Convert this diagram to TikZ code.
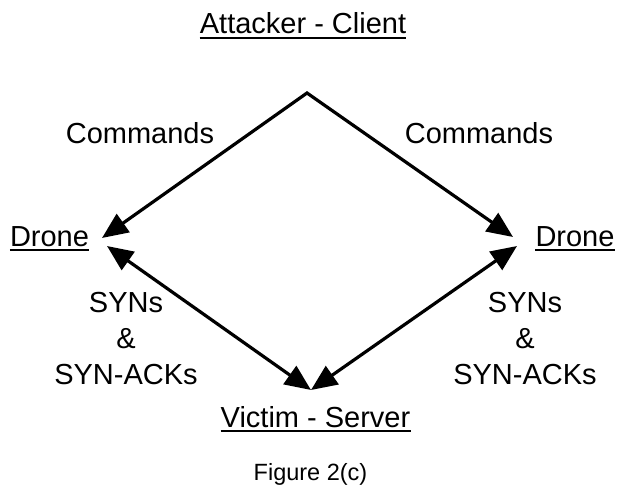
\documentclass[tikz,border=0pt]{standalone}
\usepackage{fontspec}
\setmainfont{Liberation Sans}
\usetikzlibrary{arrows.meta}
\begin{document}
\begin{tikzpicture}[x=1pt,y=-1pt,
  lbl/.style={inner sep=0pt,anchor=base,font=\fontsize{29}{34}\selectfont},
  multi/.style={inner sep=0pt,align=center,font=\fontsize{29}{36}\selectfont},
  figcaption/.style={inner sep=0pt,anchor=base,font=\fontsize{23.5}{28}\selectfont},
  ul/.style={line width=1.6pt},
  link/.style={line width=3.2pt,miter limit=20,
    arrows={Triangle[length=26pt,width=22pt]-Triangle[length=26pt,width=22pt]}}]
\useasboundingbox (0,0) rectangle (617,487);

% titles and host names
\node[lbl] (att) at (303,34) {Attacker - Client};
\node[lbl] (dl) at (49.5,246) {Drone};
\node[lbl] (dr) at (575,246) {Drone};
\node[lbl] (vic) at (315.5,427) {Victim - Server};
\node[figcaption] (fig) at (310.5,480) {Figure 2(c)};

% underlines
\foreach \n in {att,dl,dr,vic}
  \draw[ul] ([yshift=-4pt]\n.base west) -- ([yshift=-4pt]\n.base east);

% edge labels
\node[lbl] (cl) at (140,143) {Commands};
\node[lbl] (cr) at (479,143) {Commands};
\node[multi] (sl) at (126,339) {SYNs\\\&\\SYN-ACKs};
\node[multi] (sr) at (525,339) {SYNs\\\&\\SYN-ACKs};

% arrow end points beside the nodes
\coordinate (apex) at (307,93);
\coordinate (dlc) at (102,238);
\coordinate (drc) at (513,237);
\coordinate (dls) at (107,246);
\coordinate (drs) at (517,246);
\coordinate (vt) at (311,390);

% command paths from the attacker to the drones
\draw[link] (dlc) -- (apex) -- (drc);
% SYN traffic between drones and victim
\draw[link] (dls) -- (vt);
\draw[link] (drs) -- (vt);
\end{tikzpicture}
\end{document}
